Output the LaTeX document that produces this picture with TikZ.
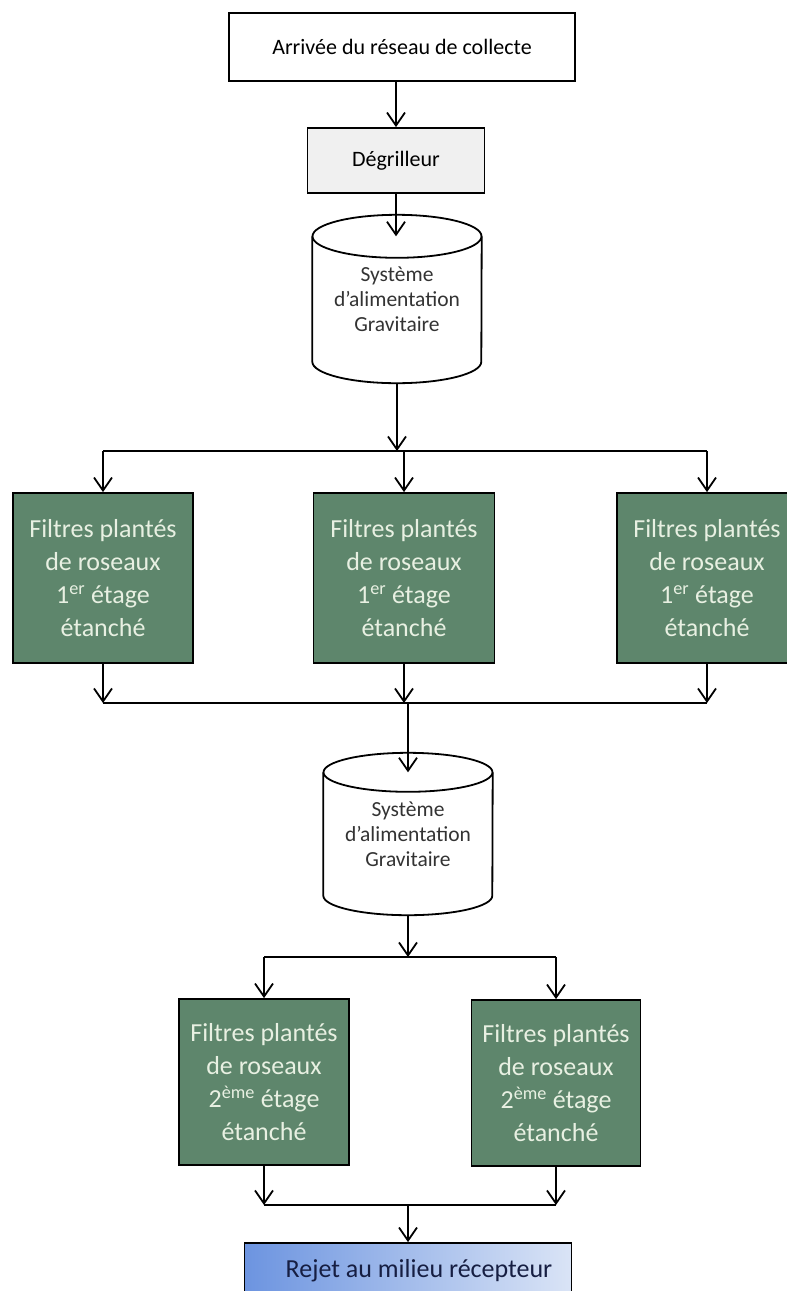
\documentclass[tikz,border=0pt]{standalone}
\usepackage{fontspec}
\setmainfont{Carlito}
\usepackage{xcolor}
\usetikzlibrary{arrows.meta}
\usetikzlibrary{positioning}
\usetikzlibrary{calc}
\definecolor{vertfiltre}{RGB}{94,134,108}
\definecolor{textefiltre}{RGB}{232,240,226}
\definecolor{grisdegr}{RGB}{240,240,240}
\definecolor{bleurejet}{RGB}{108,148,224}
\definecolor{bleuclair}{RGB}{218,228,246}
\definecolor{encre}{RGB}{22,30,66}
\newcommand{\contourcuve}[2]{%
  \draw[trait] ($(#1.north west)+(0pt,-#2)$) -- ($(#1.south west)+(0pt,#2)$)
    arc[start angle=180, end angle=360, x radius=84.5pt, y radius=#2]
    -- ($(#1.north east)+(0pt,-#2)$);
  \draw[trait] ($(#1.north)+(0pt,-#2)$) ellipse[x radius=84.5pt, y radius=#2];
}
\tikzset{
  trait/.style={line width=1.8pt},
  fleche/.style={trait, -{Straight Barb[length=13pt,width=18pt]}},
  boite/.style={draw, line width=1.8pt, align=center, inner sep=0pt, minimum width=#1, font=\fontsize{22}{26}\selectfont},
  boite/.default=177pt,
  filtre/.style={draw, line width=1.8pt, fill=vertfiltre, text=textefiltre, align=center, inner sep=0pt, minimum width=#1, minimum height=168pt, font=\fontsize{26}{33}\selectfont},
  filtre/.default=180pt,
  cuve/.style={align=center, inner sep=0pt, minimum width=169pt, minimum height=#1, text=black!80, font=\fontsize{21.5}{25}\selectfont},
  cuve/.default=168pt,
}

\begin{document}
\begin{tikzpicture}[x=1pt, y=-1pt]
  \useasboundingbox (0,0) rectangle (787,1291);
  \clip (0,0) rectangle (787,1291);
  % arrivee et pretraitement
  \node[boite=346pt, minimum height=68pt] (arrivee) at (402,47) {Arrivée du réseau de collecte};
  \node[boite=177pt, minimum height=65pt, fill=grisdegr] (degr) at (396,160.5) {Dégrilleur};
  % alimentation 1er etage
  \node[cuve=168pt] (cuve1) at (397,299) {Système\\d’alimentation\\Gravitaire};
  \contourcuve{cuve1}{21.5pt}
  \coordinate (cuve1-haut) at ([yshift=-21.5pt]cuve1.north);
  % 1er etage
  \node[filtre=180pt, minimum height=170pt] (f1) at (103,578) {Filtres plantés\\de roseaux\\1\textsuperscript{er} étage\\étanché};
  \node[filtre=181pt, minimum height=170pt] (f2) at (404,578) {Filtres plantés\\de roseaux\\1\textsuperscript{er} étage\\étanché};
  \node[filtre=180pt, minimum height=170pt] (f3) at (707,578) {Filtres plantés\\de roseaux\\1\textsuperscript{er} étage\\étanché};
  % alimentation 2eme etage
  \node[cuve=162pt] (cuve2) at (408,834) {Système\\d’alimentation\\Gravitaire};
  \contourcuve{cuve2}{19.5pt}
  \coordinate (cuve2-haut) at ([yshift=-19.5pt]cuve2.north);
  % 2eme etage
  \node[filtre=170pt, minimum height=166pt] (g1) at (264,1082) {Filtres plantés\\de roseaux\\2\textsuperscript{ème} étage\\étanché};
  \node[filtre=169pt, minimum height=166pt] (g2) at (556,1083) {Filtres plantés\\de roseaux\\2\textsuperscript{ème} étage\\étanché};
  % rejet
  \node[draw, line width=1.8pt, left color=bleurejet, right color=bleuclair, text=encre, minimum width=327pt, minimum height=56pt, inner sep=0pt, font=\fontsize{26}{30}\selectfont] (rejet) at (408,1271) {\hspace*{22pt}Rejet au milieu récepteur};
  % reseau de conduites
  \coordinate (rep1) at (0,451);
  \coordinate (col1) at (0,703);
  \coordinate (rep2) at (0,957);
  \coordinate (col2) at (0,1205);
  \draw[fleche] (degr.north |- arrivee.south) -- (degr.north);
  \draw[fleche] (degr.south) -- (degr.south |- cuve1-haut);
  \draw[fleche] (cuve1.south) -- (cuve1.south |- rep1);
  \draw[trait] (f1.north |- rep1) -- (f3.north |- rep1);
  \foreach \f in {f1,f2,f3} \draw[fleche] (\f.north |- rep1) -- (\f.north);
  \foreach \f in {f1,f2,f3} \draw[fleche] (\f.south) -- (\f.south |- col1);
  \draw[trait] (f1.south |- col1) -- (f3.south |- col1);
  \draw[fleche] (cuve2.north |- col1) -- (cuve2-haut);
  \draw[fleche] (cuve2.south) -- (cuve2.south |- rep2);
  \draw[trait] (g1.north |- rep2) -- (g2.north |- rep2);
  \foreach \g in {g1,g2} \draw[fleche] (\g.north |- rep2) -- (\g.north);
  \foreach \g in {g1,g2} \draw[fleche] (\g.south) -- (\g.south |- col2);
  \draw[trait] (g1.south |- col2) -- (g2.south |- col2);
  \draw[fleche] (rejet.north |- col2) -- (rejet.north);
\end{tikzpicture}
\end{document}
